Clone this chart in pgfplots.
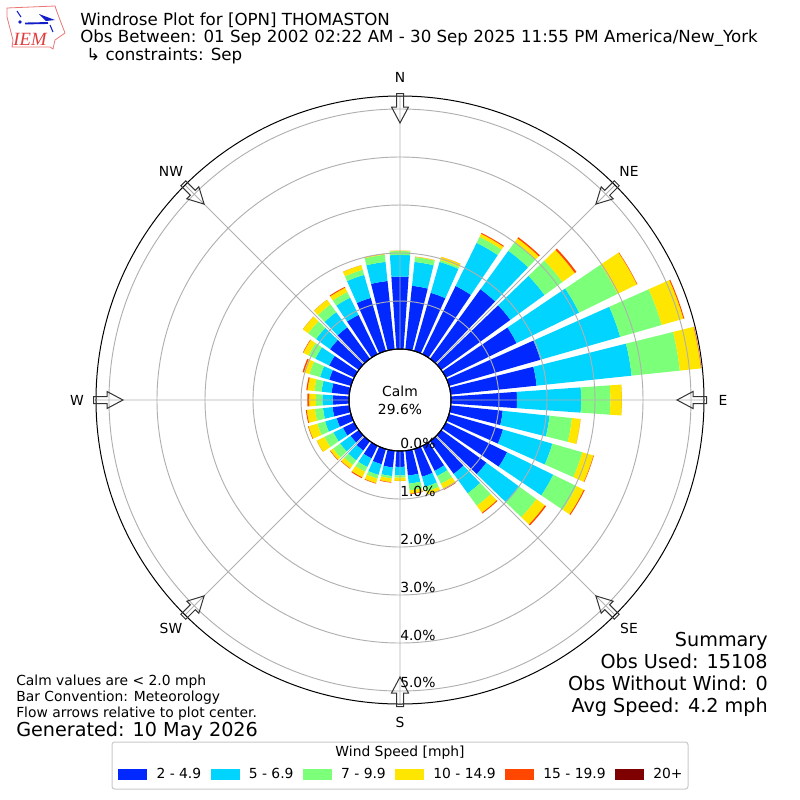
\documentclass[border=0pt]{standalone}
\usepackage{pgfplots}
\usepgfplotslibrary{polar}
\pgfplotsset{compat=1.18}
\usepackage{fontspec}
\setmainfont{DejaVu Sans}
\newfontfamily\logofont{Liberation Serif}
\definecolor{c1}{RGB}{0,40,255}
\definecolor{c2}{RGB}{0,212,255}
\definecolor{c3}{RGB}{124,255,121}
\definecolor{c4}{RGB}{255,230,0}
\definecolor{c5}{RGB}{255,71,0}
\definecolor{c6}{RGB}{127,0,0}
\definecolor{gridc}{RGB}{176,176,176}
\definecolor{logor}{RGB}{225,60,60}
\definecolor{logob}{RGB}{20,30,200}
\newcommand\sz[1]{\fontsize{#1}{#1}\selectfont}
% one wedge: direction (compass degrees), inner %, outer %, colour
\newcommand\wedgeseg[4]{%
  \pgfmathsetmacro\ta{90-#1-4+360}\pgfmathsetmacro\tb{90-#1-2+360}\pgfmathsetmacro\tc{90-#1+360}%
  \pgfmathsetmacro\td{90-#1+2+360}\pgfmathsetmacro\te{90-#1+4+360}%
  \pgfmathsetmacro\ra{#2+1.0625}\pgfmathsetmacro\rb{#3+1.0625}%
  \edef\temp{\noexpand\addplot[forget plot,no marks,draw=none,fill=#4] coordinates {(\ta,\ra)(\tb,\ra)(\tc,\ra)(\td,\ra)(\te,\ra)(\te,\rb)(\td,\rb)(\tc,\rb)(\tb,\rb)(\ta,\rb)(\ta,\ra)};}\temp}
% direction, then the cumulative outer edge of each speed class (percent)
\newcommand\dirbar[6]{%
  \wedgeseg{#1}{0}{#2}{c1}\wedgeseg{#1}{#2}{#3}{c2}\wedgeseg{#1}{#3}{#4}{c3}%
  \wedgeseg{#1}{#4}{#5}{c4}\wedgeseg{#1}{#5}{#6}{c5}}
\begin{document}
\begin{tikzpicture}[x=0.75pt,y=-0.75pt]
\path[use as bounding box] (0,0) rectangle (800,800);
\begin{polaraxis}[
  at={(300pt,-300pt)},anchor=center,
  scale only axis,width=456pt,height=456pt,
  xmin=0,xmax=360,ymin=1.0625,ymax=6.33333,
  xtick={0,45,...,315},xticklabels={},
  ytick={2.0625,3.0625,4.0625,5.0625,6.0625},yticklabels={},
  grid=major,
  major grid style={gridc,line width=0.7pt},
  major tick length=0pt,
  axis line style={black,line width=0.75pt},
  y axis line style={draw=none},
  axis on top,clip=false,
  legend style={at={(0.503,-0.116)},anchor=center,draw=none,fill=none,
    font=\sz{10.4},inner sep=0pt,
    /tikz/column 1/.style={column sep=5.2pt},
    /tikz/column 3/.style={column sep=5.2pt},
    /tikz/column 5/.style={column sep=5.2pt},
    /tikz/column 7/.style={column sep=5.2pt},
    /tikz/column 9/.style={column sep=5.2pt},
    /tikz/column 11/.style={column sep=5.2pt},
    /tikz/column 2/.style={column sep=5.1pt},
    /tikz/column 4/.style={column sep=5.1pt},
    /tikz/column 6/.style={column sep=5.1pt},
    /tikz/column 8/.style={column sep=5.1pt},
    /tikz/column 10/.style={column sep=5.1pt},
    legend columns=6},
  legend image code/.code={\fill[#1] (0pt,-3.6pt) rectangle (21pt,3.6pt);},
]
\addlegendimage{c1}\addlegendentry{2 - 4.9}
\addlegendimage{c2}\addlegendentry{5 - 6.9}
\addlegendimage{c3}\addlegendentry{7 - 9.9}
\addlegendimage{c4}\addlegendentry{10 - 14.9}
\addlegendimage{c5}\addlegendentry{15 - 19.9}
\addlegendimage{c6}\addlegendentry{20+}
\dirbar{10}{1.33}{1.83}{1.93}{1.94}{1.94}
\dirbar{20}{1.26}{1.93}{1.97}{2.04}{2.04}
\dirbar{30}{1.58}{2.58}{2.72}{2.79}{2.81}
\dirbar{40}{1.79}{2.78}{3.00}{3.10}{3.13}
\dirbar{50}{1.78}{2.66}{3.12}{3.44}{3.48}
\dirbar{60}{1.64}{3.09}{3.98}{4.43}{4.44}
\dirbar{70}{1.98}{3.71}{4.61}{5.08}{5.10}
\dirbar{80}{1.80}{3.79}{4.80}{5.24}{5.25}
\dirbar{90}{1.375}{2.71}{3.32}{3.56}{3.56}
\dirbar{100}{1.09}{2.07}{2.54}{2.72}{2.72}
\dirbar{110}{1.17}{2.24}{2.89}{3.13}{3.14}
\dirbar{120}{1.42}{2.49}{3.03}{3.20}{3.22}
\dirbar{130}{1.16}{2.01}{2.45}{2.67}{2.70}
\dirbar{140}{0.84}{1.34}{1.66}{1.84}{1.86}
\dirbar{150}{0.58}{0.70}{0.88}{1.00}{1.02}
\dirbar{160}{0.60}{0.82}{0.92}{0.99}{1.00}
\dirbar{170}{0.52}{0.69}{0.83}{0.90}{0.91}
\dirbar{180}{0.33}{0.51}{0.555}{0.625}{0.625}
\dirbar{190}{0.35}{0.53}{0.58}{0.66}{0.67}
\dirbar{200}{0.33}{0.56}{0.64}{0.74}{0.75}
\dirbar{210}{0.29}{0.49}{0.60}{0.73}{0.75}
\dirbar{220}{0.24}{0.49}{0.61}{0.70}{0.71}
\dirbar{230}{0.21}{0.48}{0.66}{0.73}{0.74}
\dirbar{240}{0.26}{0.48}{0.69}{0.87}{0.87}
\dirbar{250}{0.31}{0.56}{0.73}{0.92}{0.93}
\dirbar{260}{0.35}{0.55}{0.72}{0.89}{0.91}
\dirbar{270}{0.34}{0.555}{0.69}{0.83}{0.87}
\dirbar{280}{0.37}{0.58}{0.73}{0.875}{0.90}
\dirbar{290}{0.47}{0.67}{0.90}{1.02}{1.05}
\dirbar{300}{0.58}{0.90}{1.06}{1.18}{1.19}
\dirbar{310}{0.74}{1.10}{1.30}{1.44}{1.44}
\dirbar{320}{0.81}{1.20}{1.40}{1.52}{1.52}
\dirbar{330}{0.91}{1.31}{1.44}{1.54}{1.56}
\dirbar{340}{1.15}{1.65}{1.76}{1.86}{1.86}
\dirbar{350}{1.43}{1.83}{1.98}{2.00}{2.00}
\dirbar{360}{1.51}{1.96}{2.04}{2.05}{2.05}
\end{polaraxis}
% inner circle
\draw[black,line width=0.75pt] (400,400) circle (51);
% flow arrows
\foreach \a in {0,45,...,315}{
  \begin{scope}[shift={(400,400)},rotate=\a]
    \draw[black!80,line width=0.75pt] (0,-277)--(8.5,-293)--(3.5,-293)--(3.5,-306.5)--(-3.5,-306.5)--(-3.5,-293)--(-8.5,-293)--cycle;
  \end{scope}}
% compass labels
\tikzset{lab/.style={font=\sz{10.4},inner sep=0pt,anchor=center}}
\node[lab] at (400,77) {N};
\node[lab] at (629,171) {NE};
\node[lab] at (723,400) {E};
\node[lab] at (629,628) {SE};
\node[lab] at (400,722) {S};
\node[lab] at (171,628) {SW};
\node[lab] at (77,400) {W};
\node[lab] at (171,171) {NW};
% radial labels
\foreach \v/\y in {0.0/443,1.0/491,2.0/539,3.0/587,4.0/635,5.0/682}{
  \node[lab,anchor=west] at (400,\y) {\v\%};}
\node[lab,align=center] at (400,400) {Calm\\[3pt]29.6\%};
% title
\tikzset{ttl/.style={font=\sz{12.5},inner sep=0pt,anchor=base west}}
\node[ttl] at (80,25) {Windrose Plot for [OPN] THOMASTON};
\node[ttl] at (80,42) {Obs Between: 01 Sep 2002 02:22 AM - 30 Sep 2025 11:55 PM America/New\_York};
\node[ttl] at (86,60) {↳ constraints: Sep};
% summary
\tikzset{sm/.style={font=\sz{14.4},inner sep=0pt,anchor=base east}}
\node[sm] at (768,646) {Summary};
\node[sm] at (768,668) {Obs Used: 15108};
\node[sm] at (768,690) {Obs Without Wind: 0};
\node[sm] at (768,712) {Avg Speed: 4.2 mph};
% footer
\tikzset{ft/.style={font=\sz{10.4},inner sep=0pt,anchor=base west}}
\node[ft] at (16,685) {Calm values are < 2.0 mph};
\node[ft] at (16,701) {Bar Convention: Meteorology};
\node[ft] at (16,717) {Flow arrows relative to plot center.};
\node[ft,font=\sz{14.4}] at (16,736) {Generated: 10 May 2026};
% legend frame and title
\draw[gridc!70,rounded corners=2pt,line width=0.75pt] (112,742) rectangle (688,789);
\node[lab] at (400,753) {Wind Speed [mph]};
% logo
\draw[logor!70,line width=0.6pt] (7,8)--(55,6)--(57,12)--(65,33)--(55,40)--(53,49)--(50,47)--(12,47)--(13,40)--(7,17)--cycle;
\draw[logob,line width=1.4pt] (25,23.5)--(48,23);
\fill[logob] (39,14)--(55,20)--(46,21)--cycle;
\fill[logob] (20,22) circle (1.8);
\draw[logob,line width=0.8pt] (17,11)--(21,17);
\draw[logob,line width=0.8pt] (50,25)--(53,32);
\node[font=\logofont\itshape\sz{14},text=logor,inner sep=0pt] at (30,39) {IEM};
\end{tikzpicture}
\end{document}
